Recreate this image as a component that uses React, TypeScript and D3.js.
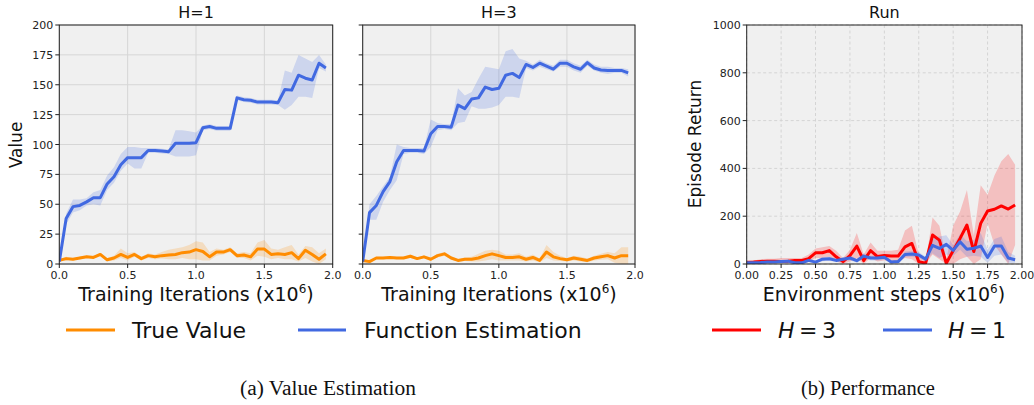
import React from 'react';
import * as d3 from 'd3';

// training / environment steps (x10^6)
const steps = [0, 0.05, 0.1, 0.15, 0.2, 0.25, 0.3, 0.35, 0.4, 0.45, 0.5, 0.55, 0.6, 0.65, 0.7, 0.75, 0.8, 0.85, 0.9, 0.95,
  1.0, 1.05, 1.1, 1.15, 1.2, 1.25, 1.3, 1.35, 1.4, 1.45, 1.5, 1.55, 1.6, 1.65, 1.7, 1.75, 1.8, 1.85, 1.9, 1.95];

// H=1 value estimation
const fe1 = [2, 38, 48, 49, 52, 55.5, 55.5, 67, 73, 83, 89, 89, 89, 95, 95, 94.5, 94, 101, 101, 101, 101.5, 114, 115, 113.5, 113.5, 113.5, 139, 137.5, 137, 135.5, 135.5, 135.5, 135, 146, 145.5, 158, 155.5, 154, 168, 164];
const fe1Lo = [0, 33, 43, 45, 49, 50, 49, 62, 68, 78, 84, 80, 80, 93, 93, 92.5, 92, 90, 90, 90, 91, 112, 113, 111.5, 111.5, 111.5, 137, 135.5, 135, 133.5, 133.5, 133.5, 133, 129, 133, 140, 140, 139, 164, 161];
const fe1Hi = [4, 42, 54, 54, 55, 60, 62, 74, 81, 92, 98, 98, 97, 97, 97, 96.5, 96, 112, 112, 111, 110, 116, 117, 115.5, 115.5, 115.5, 141, 139.5, 139, 137.5, 137.5, 137.5, 137, 162, 160, 175, 172, 169, 175, 167];
const tv1 = [3, 4.5, 4, 5, 6, 5.5, 8, 3.5, 5, 8, 5.5, 8, 4.5, 7, 6, 7, 7.5, 8, 9.5, 10, 12, 10.5, 6, 10, 10, 12, 7, 7.5, 6, 12.5, 12.5, 8, 8.5, 8, 9.5, 4.5, 11.5, 8, 4, 8.5];
const tv1Lo = [2, 3, 3, 4, 5, 4.5, 6.5, 2, 3, 5, 3, 6, 3, 5, 4, 4.5, 4, 4, 5, 4, 4, 3, 3, 7, 8, 10, 5, 5, 3, 7, 6, 4, 5, 4, 4, 2, 5, 2, 0, 4];
const tv1Hi = [4, 6, 5, 6, 7, 7, 9.5, 5, 7, 13, 9, 10, 6, 9, 8, 10, 12, 13, 14, 16, 19, 18, 10, 13, 12, 14, 9, 10, 9, 18, 20, 13, 12, 14, 16, 8, 15, 14, 9, 13];

// H=3 value estimation
const fe3 = [2, 43, 49, 60.5, 69, 85.5, 95, 95, 95, 94.5, 109, 115, 115, 114.5, 133, 130, 138, 139, 148, 146, 147, 158, 159.5, 156, 167, 164.5, 168, 165.5, 163, 168, 168, 165, 163, 168.5, 164, 162.3, 162, 162, 162, 160];
const fe3Lo = [0, 37, 37, 52, 62, 70, 92, 93, 93, 92, 98, 112, 113, 112, 118, 119, 132, 130, 130, 131, 133, 140, 140, 139, 164, 162, 165, 163, 161, 165, 165, 162, 160, 166, 162, 160, 159, 160, 160, 157];
const fe3Hi = [4, 50, 57, 65, 73, 100, 98, 97, 97, 97, 121, 118, 117, 117, 147, 141, 144, 155, 165, 164, 163, 178, 180, 172, 170, 167, 171, 168, 166, 171, 171, 168, 166, 171, 167, 165, 165, 164, 164, 163];
const tv3 = [3, 2, 5, 5, 5.5, 5, 5, 6.5, 4.5, 6, 4, 7, 8.5, 5, 3, 4, 4, 5, 7, 8.5, 7, 5.5, 5.5, 6, 4, 5.5, 3, 10, 6, 4.5, 3.5, 5, 4, 3, 5, 6, 7, 5, 7, 7];
const tv3Lo = [2, 1, 4, 4, 4.5, 4, 4, 5, 3.5, 5, 3, 5.5, 7, 3.5, 2, 2.5, 2, 2, 3, 4, 3, 3, 3, 3, 2, 3, 1.5, 5, 3, 2.5, 2, 3, 2, 1.5, 3, 3.5, 4, 1, 0, 0];
const tv3Hi = [4, 3, 6, 6, 6.5, 6, 6, 8, 5.5, 7, 5, 8.5, 10, 6.5, 4, 5.5, 6, 8.5, 11, 12, 11, 8, 8, 9, 6, 8, 4.5, 16, 10, 7, 5, 7, 6, 4.5, 7, 8.5, 10, 9, 14, 14];

// Run performance
const run3 = [7, 8, 10, 12, 12, 10, 12, 15, 15, 22, 47, 47, 56, 30, 10, 35, 75, 14, 56, 31, 36, 33, 33, 72, 86, 10, 3, 121, 100, 3, 56, 107, 163, 52, 170, 222, 229, 243, 230, 247];
const run3Lo = [3, 3, 4, 5, 5, 3, 3, 5, 5, 8, 25, 25, 30, 10, 0, 10, 25, 0, 25, 10, 15, 10, 10, 25, 20, 0, 0, 40, 20, 0, 0, 20, 30, 0, 20, 170, 80, 40, 0, 80];
const run3Hi = [12, 15, 20, 22, 22, 25, 25, 25, 25, 40, 65, 70, 75, 55, 25, 60, 130, 40, 90, 55, 55, 55, 60, 140, 160, 40, 10, 195, 160, 20, 160, 220, 310, 120, 330, 290, 370, 430, 460, 415];
const run1 = [5, 5, 6, 8, 8, 10, 12, 5, 5, 15, 8, 20, 22, 15, 20, 25, 14, 33, 25, 25, 28, 8, 10, 40, 42, 38, 20, 78, 65, 82, 57, 93, 62, 66, 75, 27, 75, 75, 25, 18];
const run1Lo = [2, 2, 3, 4, 4, 5, 6, 2, 2, 8, 3, 12, 14, 8, 12, 15, 6, 22, 15, 15, 18, 2, 3, 28, 30, 25, 10, 45, 25, 40, 35, 60, 30, 35, 30, 5, 35, 40, 5, 5];
const run1Hi = [8, 8, 10, 12, 12, 15, 18, 10, 10, 22, 15, 28, 30, 22, 28, 35, 22, 45, 35, 35, 38, 15, 18, 52, 55, 50, 30, 110, 115, 120, 80, 125, 95, 100, 130, 60, 105, 115, 50, 35];

const valueTicks = [0, 25, 50, 75, 100, 125, 150, 175, 200];
const iterTicks = [0, 0.5, 1.0, 1.5, 2.0];
const returnTicks = [0, 200, 400, 600, 800, 1000];
const envTicks = [0, 0.25, 0.5, 0.75, 1.0, 1.25, 1.5, 1.75, 2.0];

const ORANGE = '#ff8c00';
const BLUE = '#4169e1';
const RED = '#ff0000';
const FONT = 'DejaVu Sans';

const TOP = 25;
const BOTTOM = 264;

type Series = { mean: number[]; lo: number[]; hi: number[]; color: string };

function Panel(props: {
  id: string; left: number; right: number; title: string; yMax: number; yTicks: number[]; xTicks: number[];
  fmtX: (v: number) => string; showYLabels: boolean; dashed: boolean; series: Series[];
}) {
  const { id, left, right, title, yMax, yTicks, xTicks, fmtX, showYLabels, dashed, series } = props;
  const x = d3.scaleLinear().domain([0, 2]).range([left, right]);
  const y = d3.scaleLinear().domain([0, yMax]).range([BOTTOM, TOP]);
  const idx = steps.map((_, i) => i);

  return (
    <g>
      <defs>
        <clipPath id={id}><rect x={left} y={TOP} width={right - left} height={BOTTOM - TOP} /></clipPath>
      </defs>
      <rect x={left} y={TOP} width={right - left} height={BOTTOM - TOP} fill="#f0f0f0" />
      {/* grid */}
      {xTicks.map(t => (
        <line key={'gx' + t} x1={x(t)} x2={x(t)} y1={TOP} y2={BOTTOM} stroke={dashed ? '#d4d4d4' : '#d6d6d6'}
          strokeWidth={1} strokeDasharray={dashed ? '3,2.5' : undefined} />
      ))}
      {yTicks.map(t => (
        <line key={'gy' + t} x1={left} x2={right} y1={y(t)} y2={y(t)} stroke={dashed ? '#d4d4d4' : '#d6d6d6'}
          strokeWidth={1} strokeDasharray={dashed ? '3,2.5' : undefined} />
      ))}
      <g clipPath={`url(#${id})`}>
        {series.map((s, k) => {
          const area = d3.area<number>().x(i => x(steps[i])).y0(i => y(s.lo[i])).y1(i => y(s.hi[i]));
          return <path key={'a' + k} d={area(idx) || ''} fill={s.color} fillOpacity={0.2} stroke="none" />;
        })}
        {series.map((s, k) => {
          const line = d3.line<number>().x(i => x(steps[i])).y(i => y(s.mean[i]));
          return <path key={'l' + k} d={line(idx) || ''} fill="none" stroke={s.color} strokeWidth={3} strokeLinejoin="round" />;
        })}
      </g>
      <rect x={left} y={TOP} width={right - left} height={BOTTOM - TOP} fill="none" stroke="#222" strokeWidth={1} />
      {/* ticks */}
      {yTicks.map(t => (
        <g key={'ty' + t}>
          <line x1={left - 4} x2={left} y1={y(t)} y2={y(t)} stroke="#222" />
          {showYLabels && (
            <text x={left - 6} y={y(t) + 4} textAnchor="end" fontSize={11} fontFamily={FONT} fill="#222">{t}</text>
          )}
        </g>
      ))}
      {xTicks.map(t => (
        <g key={'tx' + t}>
          <line x1={x(t)} x2={x(t)} y1={BOTTOM} y2={BOTTOM + 4} stroke="#222" />
          <text x={x(t)} y={BOTTOM + 15} textAnchor="middle" fontSize={11} fontFamily={FONT} fill="#222">{fmtX(t)}</text>
        </g>
      ))}
      <text x={(left + right) / 2} y={18} textAnchor="middle" fontSize={16} fontFamily={FONT} fill="#111">{title}</text>
    </g>
  );
}

function XLabel({ cx, label }: { cx: number; label: string }) {
  return (
    <text x={cx} y={301} textAnchor="middle" fontSize={19} fontFamily={FONT} fill="#111">
      {label} (x10<tspan dy={-8} fontSize={12}>6</tspan><tspan dy={8}>)</tspan>
    </text>
  );
}

export default function App() {
  const fmt1 = d3.format('.1f');
  const fmt2 = d3.format('.2f');
  return (
    <svg width={1034} height={405} style={{ position: 'absolute', left: 0, top: 0, background: '#fff' }}>
      <Panel id="c1" left={59.3} right={332.7} title="H=1" yMax={200} yTicks={valueTicks} xTicks={iterTicks}
        fmtX={fmt1} showYLabels={true} dashed={false}
        series={[{ mean: tv1, lo: tv1Lo, hi: tv1Hi, color: ORANGE }, { mean: fe1, lo: fe1Lo, hi: fe1Hi, color: BLUE }]} />
      <Panel id="c2" left={362.7} right={635} title="H=3" yMax={200} yTicks={valueTicks} xTicks={iterTicks}
        fmtX={fmt1} showYLabels={false} dashed={false}
        series={[{ mean: tv3, lo: tv3Lo, hi: tv3Hi, color: ORANGE }, { mean: fe3, lo: fe3Lo, hi: fe3Hi, color: BLUE }]} />
      <Panel id="c3" left={746.7} right={1022} title="Run" yMax={1000} yTicks={returnTicks} xTicks={envTicks}
        fmtX={fmt2} showYLabels={true} dashed={true}
        series={[{ mean: run3, lo: run3Lo, hi: run3Hi, color: RED }, { mean: run1, lo: run1Lo, hi: run1Hi, color: BLUE }]} />

      <text transform="translate(22,145) rotate(-90)" textAnchor="middle" fontSize={17} fontFamily={FONT} fill="#111">Value</text>
      <text transform="translate(701,144) rotate(-90)" textAnchor="middle" fontSize={17} fontFamily={FONT} fill="#111">Episode Return</text>
      <XLabel cx={196} label="Training Iterations" />
      <XLabel cx={499} label="Training Iterations" />
      <XLabel cx={884} label="Environment steps" />

      {/* legends */}
      <line x1={66} x2={115} y1={330} y2={330} stroke={ORANGE} strokeWidth={3} />
      <text x={132} y={338} fontSize={22} fontFamily={FONT} fill="#111">True Value</text>
      <line x1={298} x2={346} y1={330} y2={330} stroke={BLUE} strokeWidth={3} />
      <text x={364} y={338} fontSize={22} fontFamily={FONT} fill="#111">Function Estimation</text>
      <line x1={712} x2={761} y1={330} y2={330} stroke={RED} strokeWidth={3} />
      <text x={778} y={338} fontSize={22} fontFamily={FONT} fill="#111" textLength={58} lengthAdjust="spacing">
        <tspan fontStyle="italic">H</tspan> = 3
      </text>
      <line x1={883} x2={932} y1={330} y2={330} stroke={BLUE} strokeWidth={3} />
      <text x={948} y={338} fontSize={22} fontFamily={FONT} fill="#111" textLength={58} lengthAdjust="spacing">
        <tspan fontStyle="italic">H</tspan> = 1
      </text>

      {/* captions */}
      <text x={328} y={395} textAnchor="middle" fontSize={20} fontFamily="Liberation Serif" fill="#111" textLength={176}
        lengthAdjust="spacingAndGlyphs">(a)  Value Estimation</text>
      <text x={868} y={395} textAnchor="middle" fontSize={20} fontFamily="Liberation Serif" fill="#111" textLength={134}
        lengthAdjust="spacingAndGlyphs">(b)  Performance</text>
    </svg>
  );
}
